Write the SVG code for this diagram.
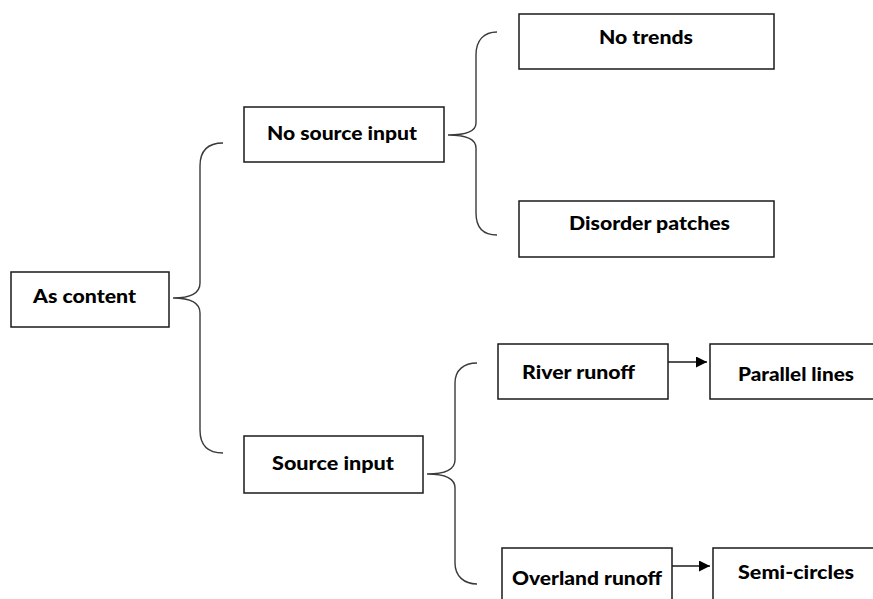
<svg xmlns="http://www.w3.org/2000/svg" width="873" height="599" viewBox="0 0 873 599">
<style>
.box{fill:#fff;stroke:#1a1a1a;stroke-width:1.5}
.lbl{font-family:"Lato","Open Sans","DejaVu Sans",sans-serif;font-weight:900;font-size:18px;fill:#000}
.brace{fill:none;stroke:#3a3a3a;stroke-width:1.4}
.arr{fill:none;stroke:#1a1a1a;stroke-width:1.4;marker-end:url(#ah)}
</style>
<defs>
<marker id="ah" viewBox="0 0 10 10" refX="10" refY="5" markerWidth="13" markerHeight="11" markerUnits="userSpaceOnUse" orient="auto">
<path d="M0,0 L10,5 L0,10 Z" fill="#000"/>
</marker>
</defs>
<rect width="873" height="599" fill="#fff"/>
<g id="connectors">
<path class="brace" d="M223,143 C208,143 200,150 200,166 L200,283 C200,293 190,298 173,298 C190,298 200,303 200,313 L200,430 C200,446 208,453 223,453"/>
<path class="brace" d="M497,32 C484,32 476,40 476,55 L476,123 C476,131 467,135 448,135 C467,135 476,139 476,148 L476,213 C476,228 484,235 497,235"/>
<path class="brace" d="M477,363 C464,363 455,370 455,383 L455,460 C455,469 446,474 427,474 C446,474 455,479 455,488 L455,563 C455,576 464,584 477,584"/>
<line class="arr" x1="668" y1="362" x2="707" y2="362"/>
<line class="arr" x1="672" y1="566" x2="710" y2="566"/>
</g>
<g id="as-content">
<rect class="box" x="11" y="272" width="158" height="55"/>
<text class="lbl" x="33" y="303" textLength="103" lengthAdjust="spacingAndGlyphs">As content</text>
</g>
<g id="no-source-input">
<rect class="box" x="244" y="107" width="200" height="55"/>
<text class="lbl" x="267" y="140" textLength="150" lengthAdjust="spacingAndGlyphs">No source input</text>
</g>
<g id="no-trends">
<rect class="box" x="519" y="14" width="255" height="55"/>
<text class="lbl" x="599" y="44" textLength="94" lengthAdjust="spacingAndGlyphs">No trends</text>
</g>
<g id="disorder-patches">
<rect class="box" x="519" y="201" width="255" height="56"/>
<text class="lbl" x="569" y="230" textLength="161" lengthAdjust="spacingAndGlyphs">Disorder patches</text>
</g>
<g id="source-input">
<rect class="box" x="244" y="436" width="179" height="57"/>
<text class="lbl" x="272" y="470" textLength="122" lengthAdjust="spacingAndGlyphs">Source input</text>
</g>
<g id="river-runoff">
<rect class="box" x="498" y="344" width="170" height="55"/>
<text class="lbl" x="522" y="379" textLength="113" lengthAdjust="spacingAndGlyphs">River runoff</text>
</g>
<g id="parallel-lines">
<rect class="box" x="710" y="344" width="175" height="55"/>
<text class="lbl" x="738" y="381" textLength="116" lengthAdjust="spacingAndGlyphs">Parallel lines</text>
</g>
<g id="overland-runoff">
<rect class="box" x="502" y="548" width="170" height="70"/>
<text class="lbl" x="512" y="585" textLength="150" lengthAdjust="spacingAndGlyphs">Overland runoff</text>
</g>
<g id="semi-circles">
<rect class="box" x="713" y="548" width="175" height="70"/>
<text class="lbl" x="738" y="579" textLength="116" lengthAdjust="spacingAndGlyphs">Semi-circles</text>
</g>
</svg>
